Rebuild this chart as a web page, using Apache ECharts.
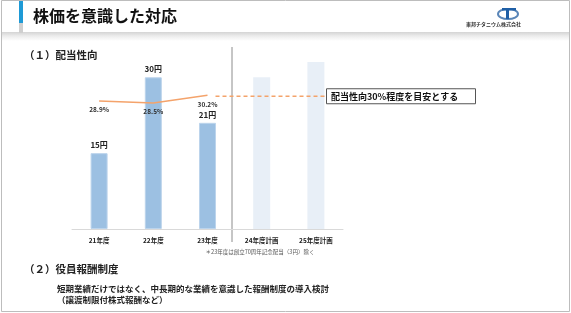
<!DOCTYPE html>
<html>
<head>
<meta charset="utf-8">
<script src="https://cdn.jsdelivr.net/npm/echarts@6/dist/echarts.min.js"></script>
<style>
  html, body { margin: 0; padding: 0; background: #fff; }
  #chart { width: 571px; height: 313px; }
</style>
</head>
<body>
<div id="chart"></div>
<script>
const FONT = '"Noto Sans CJK JP", "Noto Sans", sans-serif'

const categories = ['21年度', '22年度', '23年度', '24年度計画', '25年度計画']
const dividends = [15, 30, 21]          // 円 (実績)
const plannedDividends = [30, 33]       // 計画 (ラベルなし)
const payoutRatio = [28.9, 28.5, 30.2]  // %
const targetRatio = 30

const chart = echarts.init(document.getElementById('chart'))

const actualData = categories.map((c, i) => i < dividends.length ? dividends[i] : null)
const planData = categories.map((c, i) => i >= dividends.length ? plannedDividends[i - dividends.length] : null)
const ratioData = categories.map((c, i) => i < payoutRatio.length ? payoutRatio[i] : null)

const option = {
  animation: false,
  textStyle: { fontFamily: FONT },
  grid: { left: 72, right: 228, top: 52, bottom: 84 },
  xAxis: {
    type: 'category',
    data: categories,
    axisLine: { lineStyle: { color: '#d9d9d9', width: 1 } },
    axisTick: { show: false },
    axisLabel: { color: '#222', fontSize: 6.5, fontWeight: 'bold', margin: 8, fontFamily: FONT }
  },
  yAxis: [
    { type: 'value', min: 0, max: 35, show: false },
    { type: 'value', min: 0, max: 40, show: false }
  ],
  series: [
    {
      name: '配当',
      type: 'bar',
      stack: 'd',
      barWidth: 17,
      data: actualData,
      itemStyle: { color: '#9cc0e2', borderColor: '#bcd4ec', borderWidth: 1 },
      label: {
        show: true,
        position: 'top',
        distance: 4,
        color: '#222',
        fontSize: 8,
        fontWeight: 'bold',
        fontFamily: FONT,
        formatter: p => p.value + '円'
      }
    },
    {
      name: '計画',
      type: 'bar',
      stack: 'd',
      barWidth: 16,
      data: planData,
      itemStyle: { color: '#e8eff7' }
    },
    {
      name: '配当性向',
      type: 'line',
      yAxisIndex: 1,
      data: ratioData,
      symbol: 'circle',
      symbolSize: 1,
      showSymbol: true,
      itemStyle: { color: 'rgba(0,0,0,0)' },
      lineStyle: { color: '#f4a36b', width: 1.5 },
      label: {
        show: true,
        position: 'bottom',
        distance: 5,
        color: '#333',
        fontSize: 6.5,
        fontWeight: 'bold',
        fontFamily: FONT,
        formatter: p => p.value.toFixed(1) + '%'
      },
      labelLayout: { hideOverlap: false },
      z: 5
    }
  ],
  graphic: []
}

chart.setOption(option)

// target line / annotation placed via the chart's own scales
const xStart = chart.convertToPixel({ xAxisIndex: 0 }, categories[2]) + 8
const yTarget = chart.convertToPixel({ yAxisIndex: 1 }, targetRatio)
const boxLeft = 326

const graphics = [
  // slide border
  { type: 'rect', shape: { x: 1.5, y: 0.5, width: 568, height: 311 }, style: { fill: 'none', stroke: '#bdbdbd', lineWidth: 1 }, z: 0 },
  // header shadow band
  {
    type: 'rect', shape: { x: 2, y: 32, width: 567, height: 9 },
    style: {
      fill: new echarts.graphic.LinearGradient(0, 0, 0, 1, [
        { offset: 0, color: '#d4d4d4' },
        { offset: 0.45, color: '#ececec' },
        { offset: 1, color: '#ffffff' }
      ])
    }
  },
  // accent bar
  { type: 'rect', shape: { x: 19, y: 1, width: 4, height: 22 }, style: { fill: '#1e9ad6' } },
  { type: 'rect', shape: { x: 19, y: 23, width: 4, height: 10 }, style: { fill: '#cfcfcf' } },
  { type: 'text', left: 33, top: 8, style: { text: '株価を意識した対応', fontSize: 16, fontWeight: 'bold', fill: '#111', fontFamily: FONT } },
  // logo
  { type: 'ellipse', shape: { cx: 508, cy: 14, rx: 10, ry: 5 }, style: { fill: 'none', stroke: '#5a86b8', lineWidth: 2 } },
  { type: 'rect', shape: { x: 506, y: 8, width: 3, height: 11 }, style: { fill: '#1f5fa6' } },
  { type: 'rect', shape: { x: 502, y: 8, width: 14, height: 2.5 }, style: { fill: '#1f5fa6' } },
  { type: 'text', left: 466, top: 22, style: { text: '東邦チタニウム株式会社', fontSize: 5, fontWeight: 'bold', fill: '#333', fontFamily: FONT } },
  // section headings
  { type: 'text', left: 24, top: 50, style: { text: '（１）配当性向', fontSize: 10.5, fontWeight: 'bold', fill: '#222', fontFamily: FONT } },
  { type: 'text', left: 24, top: 264, style: { text: '（２）役員報酬制度', fontSize: 10.5, fontWeight: 'bold', fill: '#222', fontFamily: FONT } },
  { type: 'text', left: 57, top: 285, style: { text: '短期業績だけではなく、中長期的な業績を意識した報酬制度の導入検討', fontSize: 8.5, fontWeight: 'bold', fill: '#222', fontFamily: FONT } },
  { type: 'text', left: 57, top: 296, style: { text: '（譲渡制限付株式報酬など）', fontSize: 8.5, fontWeight: 'bold', fill: '#222', fontFamily: FONT } },
  // divider between actual and plan
  { type: 'line', shape: { x1: 232, y1: 47, x2: 232, y2: 242 }, style: { stroke: '#8c8c8c', lineWidth: 1 } },
  // footnote
  { type: 'text', x: 260, y: 252, style: { text: '＊23年度は創立70周年記念配当（3円）除く', fontSize: 5.5, fill: '#555', align: 'center', verticalAlign: 'middle', fontFamily: FONT } },
  // target dashed line
  { type: 'line', shape: { x1: xStart, y1: yTarget, x2: boxLeft, y2: yTarget }, style: { stroke: '#f4a36b', lineWidth: 1.5, lineDash: [4, 3] }, z: 10 },
  // target box
  { type: 'rect', shape: { x: boxLeft + 0.5, y: yTarget - 7.5, width: 149, height: 15 }, style: { fill: '#fff', stroke: '#555', lineWidth: 1 }, z: 10 },
  { type: 'text', x: boxLeft + 5, y: yTarget, style: { text: '配当性向30%程度を目安とする', fontSize: 9, fontWeight: 'bold', fill: '#111', verticalAlign: 'middle', fontFamily: FONT }, z: 11 }
]

chart.setOption({ graphic: graphics })
</script>
</body>
</html>
